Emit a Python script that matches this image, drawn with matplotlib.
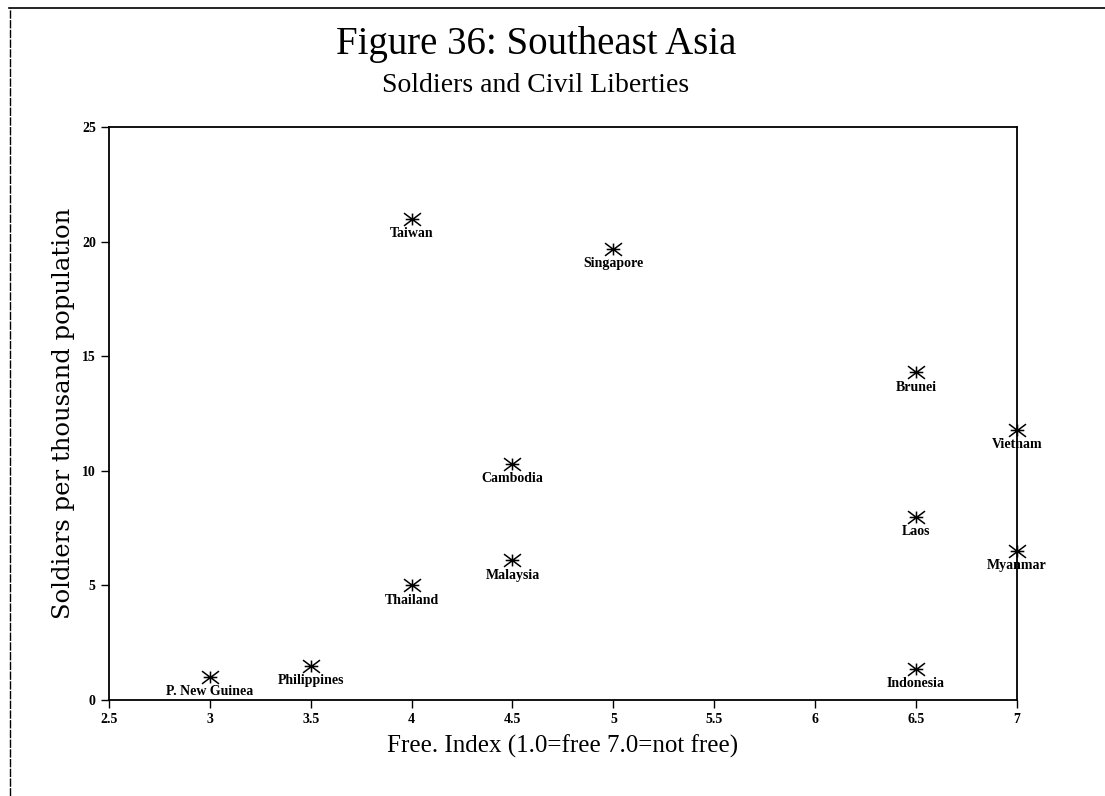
import matplotlib.pyplot as plt
from matplotlib.lines import Line2D
from matplotlib.path import Path

countries = ['Taiwan', 'Singapore', 'Brunei', 'Vietnam', 'Cambodia', 'Laos',
             'Myanmar', 'Malaysia', 'Thailand', 'Philippines', 'P. New Guinea', 'Indonesia']
free_index = [4.0, 5.0, 6.5, 7.0, 4.5, 6.5, 7.0, 4.5, 4.0, 3.5, 3.0, 6.5]
soldiers = [21.0, 19.7, 14.3, 11.8, 10.3, 8.0, 6.5, 6.1, 5.0, 1.5, 1.0, 1.35]

x_ticks = [2.5, 3, 3.5, 4, 4.5, 5, 5.5, 6, 6.5, 7]
x_labels = ['2.5', '3', '3.5', '4', '4.5', '5', '5.5', '6', '6.5', '7']
y_ticks = [0, 5, 10, 15, 20, 25]

# wide asterisk like the old plotter symbol
star = Path([(-1, 0.75), (1, -0.75), (-1, -0.75), (1, 0.75), (-0.8, 0), (0.8, 0),
             (0, -0.7), (0, 0.7)],
            [Path.MOVETO, Path.LINETO, Path.MOVETO, Path.LINETO,
             Path.MOVETO, Path.LINETO, Path.MOVETO, Path.LINETO])

fig = plt.figure(figsize=(11.05, 7.96), dpi=100)
ax = fig.add_axes([0.0986, 0.1206, 0.8217, 0.7198])

ax.scatter(free_index, soldiers, marker=star, s=150, color='black',
           linewidths=1.1, zorder=3, clip_on=False)

for name, x, y in zip(countries, free_index, soldiers):
    ax.annotate(name, (x, y), xytext=(0, -6), textcoords='offset points',
                ha='center', va='top', fontsize=10, weight='bold',
                family='Liberation Serif', color='black')

ax.set_xlim(2.5, 7)
ax.set_ylim(0, 25)
ax.set_xticks(x_ticks)
ax.set_xticklabels(x_labels)
ax.set_yticks(y_ticks)

for spine in ax.spines.values():
    spine.set_linewidth(1.3)
    spine.set_color('black')

ax.tick_params(axis='both', direction='out', length=6, width=1.0,
               labelsize=10, colors='black')
for lbl in ax.get_xticklabels() + ax.get_yticklabels():
    lbl.set_fontweight('bold')
    lbl.set_family('Liberation Serif')

ax.set_xlabel('Free. Index (1.0=free 7.0=not free)', fontsize=18,
              family='Liberation Serif', labelpad=6)
ax.set_ylabel('Soldiers per thousand population', fontsize=17.5,
              family='DejaVu Serif', labelpad=5)

fig.text(0.485, 0.944, 'Figure 36: Southeast Asia', ha='center', va='center',
         fontsize=28, family='Liberation Serif')
fig.text(0.485, 0.893, 'Soldiers and Civil Liberties', ha='center', va='center',
         fontsize=20, family='Liberation Serif')

# scanned page frame
fig.add_artist(Line2D([0.008, 1.0], [0.99, 0.99], transform=fig.transFigure,
                      color='black', linewidth=1.2))
fig.add_artist(Line2D([0.009, 0.009], [0.0, 0.99], transform=fig.transFigure,
                      color='black', linewidth=1.0, linestyle=(0, (6, 1))))

fig.savefig('out.png', dpi=100)
